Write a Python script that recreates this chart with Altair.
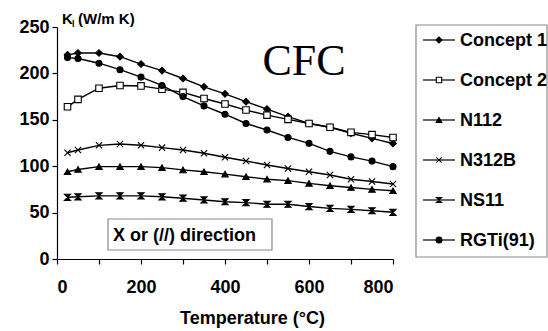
import altair as alt
import pandas as pd

temps = [25, 50, 100, 150, 200, 250, 300, 350, 400, 450, 500, 550, 600, 650, 700, 750, 800]
series_names = ["Concept 1", "Concept 2", "N112", "N312B", "NS11", "RGTi(91)"]
concept1 = [220, 222, 222, 218, 210, 203, 194.5, 185.5, 178, 169.5, 161.5, 153.5, 146, 142, 135.5, 130, 124.5]
concept2 = [164, 172, 184, 187, 186.5, 183, 179.5, 173, 167, 160.5, 155, 150.5, 146, 142, 136.5, 134, 131]
n112 = [94, 96.5, 99.5, 99.5, 99.5, 98.5, 96, 94, 91.5, 88.7, 86, 84.5, 81.5, 79, 77, 75, 73.5]
n312b = [114.5, 117.5, 122.5, 124, 122.5, 120, 117.5, 114, 109.6, 105.6, 101.3, 97.5, 94, 90.5, 86, 83.5, 80.8]
ns11 = [66.5, 67, 68, 68, 68, 67, 65.5, 63.6, 61.7, 60.7, 59, 59, 56.5, 54.6, 53.5, 52, 50.3]
rgti = [217, 216, 211, 204, 196, 187, 175, 165, 156, 146, 139, 131, 124.6, 116, 110, 105.5, 99.5]
x_ticks = [0, 100, 200, 300, 400, 500, 600, 700, 800]
y_ticks = [0, 50, 100, 150, 200, 250]

values = [concept1, concept2, n112, n312b, ns11, rgti]
rows = []
for name, vals in zip(series_names, values):
    for t, v in zip(temps, vals):
        rows.append({"series": name, "temp": t, "k": v})
df = pd.DataFrame(rows)

shapes = ["diamond", "square", "triangle-up", "M-1,-1L1,1M-1,1L1,-1",
          "M-1,-1L1,-1L-1,1L1,1Z", "circle"]
fills = ["black", "white", "black", "black", "black", "black"]
sizes = [44, 36, 40, 36, 32, 44]

FONT = "Liberation Sans"

base = alt.Chart(df)
xenc = alt.X("temp:Q", scale=alt.Scale(domain=[0, 800], nice=False),
             axis=alt.Axis(values=x_ticks, title="Temperature (°C)", grid=False,
                           tickSize=5, labelPadding=14, titlePadding=13,
                           titleX=195, titleAnchor="middle",
                           labelFontSize=18, titleFontSize=18))
yenc = alt.Y("k:Q", scale=alt.Scale(domain=[0, 250], nice=False),
             axis=alt.Axis(values=y_ticks, title=None, grid=False,
                           tickSize=5, labelPadding=3, labelFontSize=18))

lines = base.mark_line(color="black", strokeWidth=1.4).encode(
    x=xenc, y=yenc, detail="series:N")
points = base.mark_point(filled=True, stroke="black", strokeWidth=1.1, opacity=1).encode(
    x="temp:Q", y="k:Q",
    shape=alt.Shape("series:N", scale=alt.Scale(domain=series_names, range=shapes), legend=None),
    fill=alt.Fill("series:N", scale=alt.Scale(domain=series_names, range=fills), legend=None),
    size=alt.Size("series:N", scale=alt.Scale(domain=series_names, range=sizes), legend=None),
)

one = pd.DataFrame({"a": [0]})
layers = [lines, points]

# legend box
layers.append(alt.Chart(one).mark_rect(fill="white", stroke="#8a8a8a", strokeWidth=1.2).encode(
    x=alt.value(359), x2=alt.value(490), y=alt.value(-2), y2=alt.value(230)))
for i, name in enumerate(series_names):
    yy = 13 + 40 * i
    layers.append(alt.Chart(one).mark_rule(color="black", strokeWidth=1.2).encode(
        x=alt.value(366), x2=alt.value(398), y=alt.value(yy)))
    layers.append(alt.Chart(one).mark_point(filled=True, stroke="black", strokeWidth=1.1, opacity=1).encode(
        x=alt.value(382), y=alt.value(yy), shape=alt.value(shapes[i]),
        fill=alt.value(fills[i]), size=alt.value(sizes[i] * 0.8)))
    layers.append(alt.Chart(one).mark_text(font=FONT, fontWeight="bold", fontSize=18,
                                           align="left", baseline="middle", color="black").encode(
        x=alt.value(403), y=alt.value(yy + 1), text=alt.value(name)))

# direction box
layers.append(alt.Chart(one).mark_rect(fill="white", stroke="#8a8a8a", strokeWidth=1.2).encode(
    x=alt.value(51), x2=alt.value(215), y=alt.value(192), y2=alt.value(223)))
layers.append(alt.Chart(one).mark_text(font=FONT, fontWeight="bold", fontSize=18,
                                       align="left", baseline="middle", color="black").encode(
    x=alt.value(56), y=alt.value(209), text=alt.value("X or (//) direction")))

# y title K_l (W/m K)
layers.append(alt.Chart(one).mark_text(font=FONT, fontWeight="bold", fontSize=15,
                                       align="left", baseline="alphabetic", color="black").encode(
    x=alt.value(5), y=alt.value(-3), text=alt.value("K")))
layers.append(alt.Chart(one).mark_text(font=FONT, fontWeight="bold", fontSize=9,
                                       align="left", baseline="alphabetic", color="black").encode(
    x=alt.value(15), y=alt.value(0), text=alt.value("l")))
layers.append(alt.Chart(one).mark_text(font=FONT, fontWeight="bold", fontSize=15,
                                       align="left", baseline="alphabetic", color="black").encode(
    x=alt.value(21), y=alt.value(-3), text=alt.value("(W/m K)")))

# CFC
layers.append(alt.Chart(one).mark_text(font="Liberation Serif", fontSize=44,
                                       align="center", baseline="alphabetic", color="black").encode(
    x=alt.value(247), y=alt.value(48), text=alt.value("CFC")))

chart = alt.layer(*layers).properties(
    width=336, height=232,
    autosize=alt.AutoSizeParams(type="none"),
    padding={"left": 57, "top": 27, "right": 155, "bottom": 72},
    background="white",
).configure_view(stroke=None).configure_axis(
    labelFont=FONT, titleFont=FONT, labelFontWeight="bold", titleFontWeight="bold",
    labelColor="black", titleColor="black", domainColor="black", tickColor="black",
    domainWidth=1.2, tickWidth=1.2,
)

chart.save("out.html", embed_options={"renderer": "svg", "actions": False})
